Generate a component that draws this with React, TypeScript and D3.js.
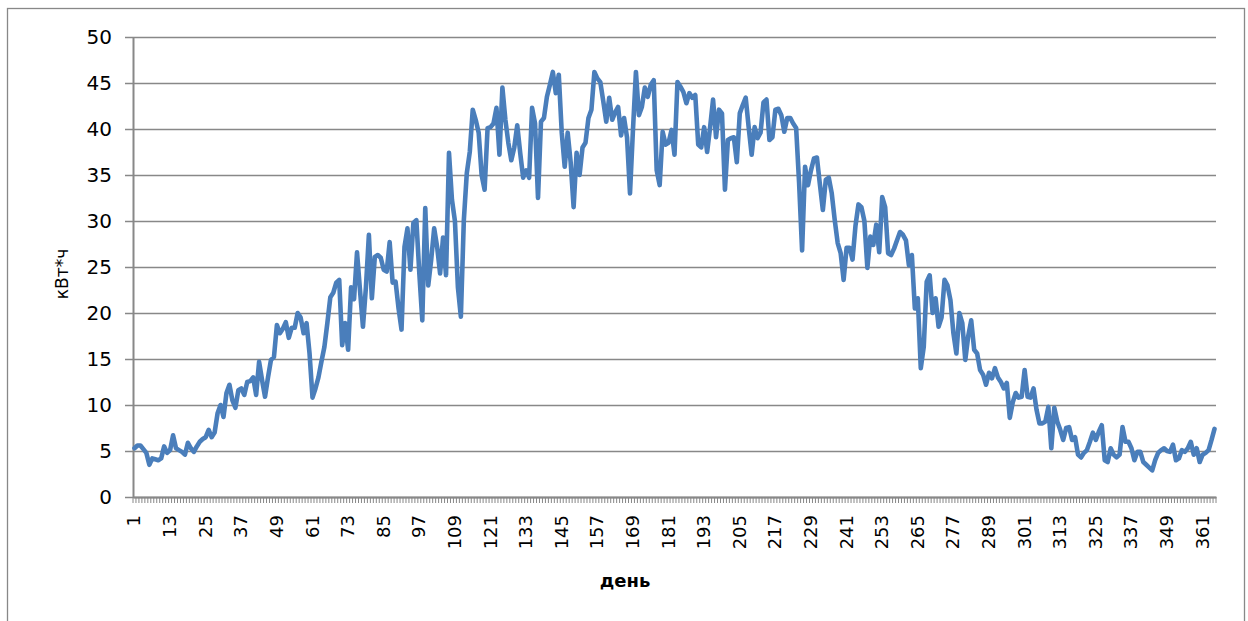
import React, { useEffect, useRef } from "react";
import { axisBottom, axisLeft, line, range, scaleBand, scaleLinear, select } from "d3";

// daily energy output, кВт*ч
const kwh: number[] = [
  5.3, 5.6, 5.6, 5.2, 4.8, 3.5, 4.2, 4.1, 4.0, 4.2,
  5.5, 4.8, 5.1, 6.7, 5.3, 5.1, 4.9, 4.6, 5.9, 5.3,
  4.9, 5.5, 6.0, 6.3, 6.5, 7.3, 6.5, 7.0, 9.1, 10.0,
  8.7, 11.3, 12.2, 10.5, 9.7, 11.6, 11.8, 11.1, 12.5, 12.6,
  13.0, 11.1, 14.7, 12.7, 10.9, 13.0, 14.9, 15.2, 18.7, 17.8,
  18.3, 19.0, 17.3, 18.4, 18.4, 20.0, 19.5, 17.8, 18.9, 15.6,
  10.8, 11.8, 13.0, 14.7, 16.3, 18.9, 21.7, 22.2, 23.3, 23.6,
  16.5, 18.9, 16.0, 22.8, 21.5, 26.6, 22.5, 18.5, 22.8, 28.5,
  21.6, 26.1, 26.3, 26.0, 24.7, 24.5, 27.7, 23.3, 23.4, 20.5,
  18.2, 27.2, 29.2, 24.7, 29.8, 30.1, 24.3, 19.2, 31.4, 23.0,
  25.8, 29.2, 27.2, 24.3, 28.2, 24.1, 37.4, 32.3, 30.0, 22.8,
  19.6, 30.1, 35.2, 37.5, 42.1, 41.0, 39.6, 35.0, 33.4, 40.1,
  40.2, 40.6, 42.3, 37.2, 44.5, 41.0, 38.5, 36.6, 38.0, 40.4,
  37.4, 34.7, 35.5, 34.7, 42.3, 40.6, 32.5, 40.8, 41.2, 43.5,
  44.8, 46.2, 43.9, 45.9, 39.6, 35.9, 39.6, 36.4, 31.5, 37.4,
  35.0, 38.0, 38.5, 41.2, 42.1, 46.2, 45.5, 45.1, 43.0, 40.8,
  43.4, 41.0, 41.8, 42.4, 39.3, 41.2, 39.1, 33.0, 39.9, 46.2,
  41.5, 42.4, 44.5, 43.5, 44.8, 45.3, 35.5, 33.9, 39.7, 38.3,
  38.5, 39.9, 37.2, 45.1, 44.6, 44.0, 42.8, 43.9, 43.4, 43.7,
  38.3, 38.0, 40.2, 37.5, 40.2, 43.2, 39.1, 42.1, 41.7, 33.4,
  38.8, 39.0, 39.1, 36.4, 41.7, 42.6, 43.4, 40.2, 37.2, 40.2,
  39.0, 39.6, 42.9, 43.2, 38.8, 39.1, 42.1, 42.2, 41.5, 39.7,
  41.2, 41.2, 40.6, 40.1, 34.1, 26.8, 35.9, 33.9, 35.5, 36.8,
  36.9, 34.0, 31.2, 34.5, 34.7, 33.0, 30.1, 27.6, 26.5, 23.6,
  27.1, 27.1, 25.8, 29.5, 31.8, 31.5, 30.0, 24.9, 28.3, 27.4,
  29.6, 26.6, 32.6, 31.5, 26.5, 26.3, 27.0, 27.9, 28.8, 28.5,
  27.9, 25.2, 26.3, 20.5, 21.6, 14.0, 16.3, 23.4, 24.1, 20.0,
  21.6, 18.5, 19.5, 23.6, 23.0, 21.4, 17.8, 15.6, 20.0, 18.9,
  14.9, 17.5, 19.2, 16.0, 15.6, 13.8, 13.3, 12.2, 13.5, 12.9,
  14.0, 13.0, 12.5, 11.8, 12.4, 8.6, 10.3, 11.3, 10.8, 10.9,
  13.8, 10.9, 10.8, 11.8, 9.5, 8.0, 8.0, 8.2, 9.8, 5.3,
  9.7, 8.2, 7.3, 6.2, 7.5, 7.6, 6.2, 6.5, 4.6, 4.3,
  4.8, 5.1, 6.0, 7.0, 6.2, 7.1, 7.8, 4.0, 3.8, 5.3,
  4.6, 4.3, 4.6, 7.6, 6.0, 6.0, 5.3, 4.0, 4.9, 4.9,
  3.8, 3.5, 3.2, 2.9, 4.0, 4.8, 5.1, 5.3, 5.0, 4.9,
  5.7, 4.0, 4.2, 5.1, 4.9, 5.3, 6.0, 4.6, 5.3, 3.8,
  4.6, 4.8, 5.1, 6.2, 7.4,
];

const days: number[] = range(1, kwh.length + 1);
const dayLabels: number[] = [
  1, 13, 25, 37, 49, 61, 73, 85, 97, 109, 121, 133, 145, 157, 169, 181,
  193, 205, 217, 229, 241, 253, 265, 277, 289, 301, 313, 325, 337, 349, 361,
];
const yTicks: number[] = [0, 5, 10, 15, 20, 25, 30, 35, 40, 45, 50];

const W = 1248;
const H = 621;
const font = "'DejaVu Sans', sans-serif";

export default function App() {
  const ref = useRef<SVGSVGElement>(null);

  useEffect(() => {
    const svg = select(ref.current);
    svg.selectAll("*").remove();

    const left = 133;
    const right = 1216;
    const top = 37;
    const bottom = 497;
    const grey = "#888888";

    const x = scaleBand<number>().domain(days).range([left, right]).padding(0);
    const y = scaleLinear().domain([0, 50]).range([bottom, top]);
    const cx = (d: number) => (x(d) as number) + x.bandwidth() / 2;

    // outer chart frame
    svg
      .append("rect")
      .attr("x", 7.5)
      .attr("y", 8.5)
      .attr("width", 1237)
      .attr("height", 640)
      .attr("fill", "none")
      .attr("stroke", grey)
      .attr("stroke-width", 1.3);

    // y axis with gridlines
    const ya = svg
      .append("g")
      .attr("transform", `translate(${left},0)`)
      .call(
        axisLeft(y)
          .tickValues(yTicks)
          .tickSize(-(right - left))
          .tickSizeOuter(0)
          .tickPadding(21)
      );
    ya.select(".domain").attr("stroke", grey).attr("stroke-width", 2);
    ya.selectAll(".tick line")
      .attr("stroke", grey)
      .attr("stroke-width", 1.6)
      .attr("x1", -8);
    ya.selectAll(".tick text")
      .attr("font-family", font)
      .attr("font-size", 20)
      .attr("fill", "#000");

    // x axis: a tick per day, a label every 12 days
    const xa = svg
      .append("g")
      .attr("transform", `translate(0,${bottom})`)
      .call(axisBottom(x).tickValues([]).tickSizeOuter(0));
    xa.select(".domain").attr("stroke", grey).attr("stroke-width", 2);
    xa.selectAll("line.day")
      .data(range(days.length + 1))
      .join("line")
      .attr("class", "day")
      .attr("x1", (i) => left + i * x.step())
      .attr("x2", (i) => left + i * x.step())
      .attr("y1", 0)
      .attr("y2", 6)
      .attr("stroke", grey)
      .attr("stroke-width", 1);
    xa.selectAll("text.lab")
      .data(dayLabels)
      .join("text")
      .attr("class", "lab")
      .attr("transform", (d) => `translate(${cx(d) + 6},${18}) rotate(-90)`)
      .attr("text-anchor", "end")
      .attr("font-family", font)
      .attr("font-size", 18)
      .attr("fill", "#000")
      .text((d) => d);

    // the series
    const path = line<number>()
      .x((d, i) => cx(days[i]))
      .y((d) => y(d));
    svg
      .append("path")
      .datum(kwh)
      .attr("d", path)
      .attr("fill", "none")
      .attr("stroke", "#4a7ebb")
      .attr("stroke-width", 4.6)
      .attr("stroke-linejoin", "round")
      .attr("stroke-linecap", "round");

    // axis titles
    svg
      .append("text")
      .attr("transform", `translate(68,274) rotate(-90)`)
      .attr("text-anchor", "middle")
      .attr("font-family", font)
      .attr("font-size", 17)
      .text("кВт*ч");
    svg
      .append("text")
      .attr("x", 625)
      .attr("y", 587)
      .attr("text-anchor", "middle")
      .attr("font-family", font)
      .attr("font-size", 18)
      .attr("font-weight", "bold")
      .text("день");
  }, []);

  return (
    <svg
      ref={ref}
      width={W}
      height={H}
      style={{ position: "absolute", left: 0, top: 0, background: "#fff" }}
    />
  );
}
